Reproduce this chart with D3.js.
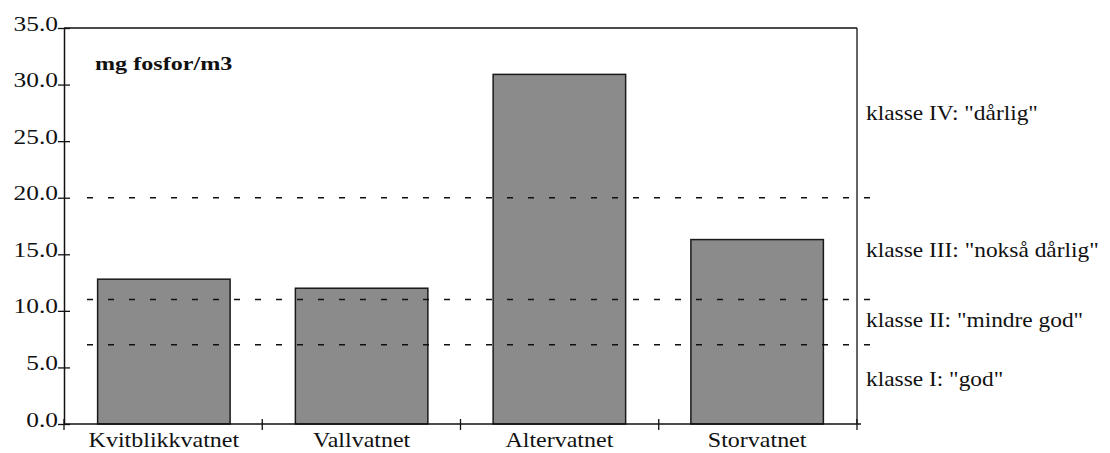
<!DOCTYPE html>
<html>
<head>
<meta charset="utf-8">
<script src="https://cdn.jsdelivr.net/npm/d3@7"></script>
<style>
  body { margin: 0; background: #fff; }
  text { font-family: "Liberation Serif", "DejaVu Serif", serif; fill: #111; }
</style>
</head>
<body>
<div id="chart"></div>
<script>
// data
var lakes = ["Kvitblikkvatnet", "Vallvatnet", "Altervatnet", "Storvatnet"];
var phosphorus = [12.8, 12.0, 30.9, 16.3];
var yTicks = [0, 5, 10, 15, 20, 25, 30, 35];
var classLimits = [7, 11, 20];
var classLabels = ["klasse I: \"god\"", "klasse II: \"mindre god\"", "klasse III: \"nokså dårlig\"", "klasse IV: \"dårlig\""];
var classLabelValues = [3.4, 8.6, 14.8, 26.9];

var svgWidth = 1110, svgHeight = 453;
var margin = { top: 28, right: 253, bottom: 29, left: 64 };
var chartWidth = svgWidth - margin.left - margin.right;
var chartHeight = svgHeight - margin.top - margin.bottom;

// the scanned type is wider than Times, so stretch text sideways a bit
var stretch = 1.2;

var svg = d3.select("#chart").append("svg")
  .attr("width", svgWidth)
  .attr("height", svgHeight);

var chartGroup = svg.append("g")
  .attr("transform", `translate(${margin.left}, ${margin.top})`);

var xScale = d3.scaleBand()
  .domain(lakes)
  .range([0, chartWidth])
  .paddingInner(0.33)
  .paddingOuter(0.17);

var yScale = d3.scaleLinear()
  .domain([0, 35])
  .range([chartHeight, 0]);

// bars
chartGroup.selectAll("rect.bar")
  .data(lakes)
  .enter()
  .append("rect")
  .attr("class", "bar")
  .attr("x", d => xScale(d))
  .attr("y", (d, i) => yScale(phosphorus[i]))
  .attr("width", xScale.bandwidth())
  .attr("height", (d, i) => chartHeight - yScale(phosphorus[i]))
  .attr("fill", "#8b8b8b")
  .attr("stroke", "#1a1a1a")
  .attr("stroke-width", 1.5);

// class limit lines
chartGroup.selectAll("line.limit")
  .data(classLimits)
  .enter()
  .append("line")
  .attr("class", "limit")
  .attr("x1", 23)
  .attr("x2", chartWidth + 22)
  .attr("y1", d => yScale(d))
  .attr("y2", d => yScale(d))
  .attr("stroke", "#111")
  .attr("stroke-width", 1.5)
  .attr("stroke-dasharray", "6,15");

// frame: top and right lines
chartGroup.append("line")
  .attr("x1", 0).attr("x2", chartWidth)
  .attr("y1", 0).attr("y2", 0)
  .attr("stroke", "#111").attr("stroke-width", 1.3);
chartGroup.append("line")
  .attr("x1", chartWidth).attr("x2", chartWidth)
  .attr("y1", 0).attr("y2", chartHeight)
  .attr("stroke", "#111").attr("stroke-width", 1.3);

// left axis
var leftAxis = d3.axisLeft(yScale)
  .tickValues(yTicks)
  .tickFormat(d3.format(".1f"))
  .tickSizeInner(6)
  .tickSizeOuter(0)
  .tickPadding(1);

var yAxisGroup = chartGroup.append("g").call(leftAxis);
yAxisGroup.select(".domain").attr("stroke", "#111").attr("stroke-width", 1.5);
yAxisGroup.selectAll(".tick line")
  .attr("x2", 6).attr("x1", -6)
  .attr("stroke", "#111").attr("stroke-width", 1.3);
yAxisGroup.selectAll(".tick text")
  .attr("x", -6 / 1.27)
  .attr("dy", "0.1em")
  .attr("transform", "scale(1.27,1)")
  .style("font-family", "Liberation Serif")
  .style("font-size", "20px")
  .attr("fill", "#111");

// bottom axis with ticks between the bars
var boundaries = [0, 1, 2, 3, 4];
var edgeScale = d3.scaleLinear().domain([0, 4]).range([0, chartWidth]);

var xAxisGroup = chartGroup.append("g")
  .attr("transform", `translate(0, ${chartHeight})`);
xAxisGroup.append("line")
  .attr("x1", 0).attr("x2", chartWidth + 4)
  .attr("stroke", "#111").attr("stroke-width", 1.5);
xAxisGroup.selectAll("line.xtick")
  .data(boundaries)
  .enter()
  .append("line")
  .attr("class", "xtick")
  .attr("x1", d => edgeScale(d)).attr("x2", d => edgeScale(d))
  .attr("y1", -5).attr("y2", 6)
  .attr("stroke", "#111").attr("stroke-width", 1.3);
xAxisGroup.selectAll("text.xlabel")
  .data(lakes)
  .enter()
  .append("text")
  .attr("class", "xlabel")
  .attr("transform", d => `translate(${xScale(d) + xScale.bandwidth() / 2}, 23) scale(${stretch},1)`)
  .attr("text-anchor", "middle")
  .style("font-size", "20px")
  .text(d => d);

// unit label
chartGroup.append("text")
  .attr("transform", "translate(31, 42) scale(1.27,1)")
  .style("font-size", "19px")
  .style("font-weight", "bold")
  .text("mg fosfor/m3");

// class labels to the right
chartGroup.selectAll("text.klasse")
  .data(classLabels)
  .enter()
  .append("text")
  .attr("class", "klasse")
  .attr("transform", (d, i) => `translate(${chartWidth + 9}, ${yScale(classLabelValues[i])}) scale(1.17,1)`)
  .style("font-size", "20px")
  .text(d => d);
</script>
</body>
</html>
